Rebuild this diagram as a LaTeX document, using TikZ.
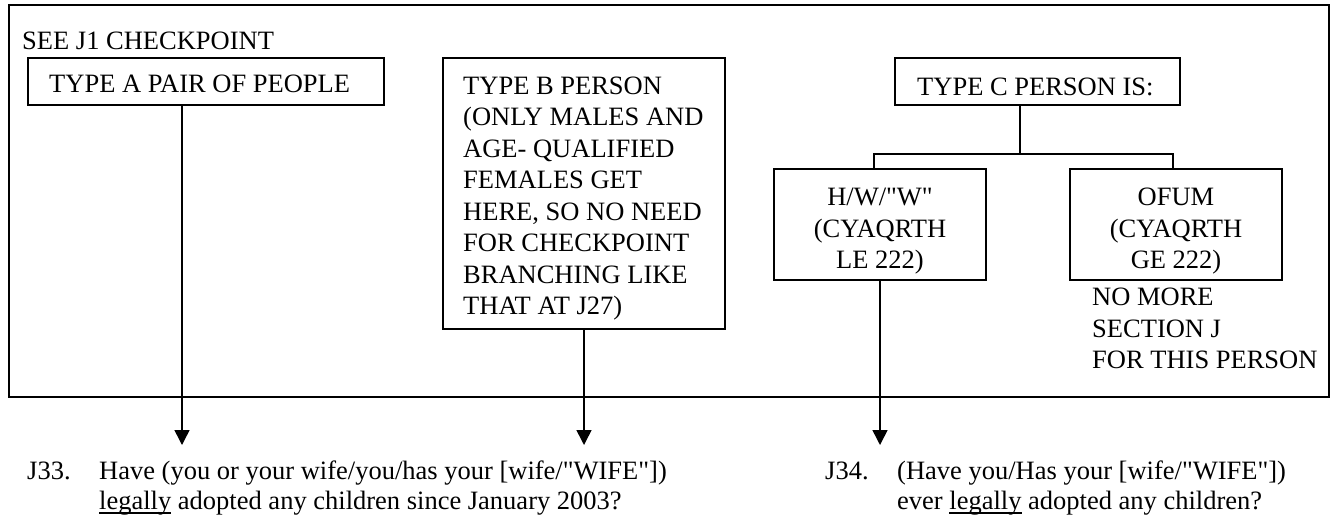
\documentclass[tikz,border=0pt]{standalone}
\usepackage{fontspec}
\setmainfont{Liberation Serif}[Ligatures=TeXOff]
\usetikzlibrary{arrows.meta,calc}
\newcommand\myul[1]{\setbox0\hbox{#1}\rlap{\rule[-4.5pt]{\wd0}{1.3pt}}\box0\relax}
\begin{document}
\begin{tikzpicture}[x=1pt,y=-1pt,
  box/.style={draw,line width=1.5pt,inner sep=0pt,outer sep=0pt},
  txt/.style={anchor=base west,inner sep=0pt,font=\fontsize{26.5}{31.5}\selectfont},
  ctxt/.style={anchor=base,inner sep=0pt,font=\fontsize{26.5}{31.5}\selectfont},
  btxt/.style={anchor=base west,inner sep=0pt,font=\fontsize{26.5}{30}\selectfont},
  conn/.style={line width=1.5pt},
  arr/.style={conn,-{Triangle[length=15pt,width=15pt]}}]
\useasboundingbox (0,0) rectangle (1335,523);
% boxes
\node[box,minimum width=1320pt,minimum height=392pt] (outer) at (669,201) {};
\node[box,minimum width=356pt,minimum height=47pt] (A) at (206,81.5) {};
\node[box,minimum width=282pt,minimum height=271pt] (B) at (584,193.5) {};
\node[box,minimum width=285pt,minimum height=47pt] (C) at (1037.5,81.5) {};
\node[box,minimum width=212pt,minimum height=111pt] (HW) at (880,224.5) {};
\node[box,minimum width=212pt,minimum height=111pt] (OF) at (1176,224.5) {};
% texts
\node[txt] (see) at (22,49) {SEE J1 CHECKPOINT};
\node[txt] (Atxt) at (49,92) {TYPE A PAIR OF PEOPLE};
\node[txt] (Ctxt) at (917,95) {TYPE C PERSON IS:};
\node[txt] (Btxt) at (463,94) {\begin{tabular}[t]{@{}l@{}}TYPE B PERSON\\(ONLY MALES AND\\AGE- QUALIFIED\\FEMALES GET\\HERE, SO NO NEED\\FOR CHECKPOINT\\BRANCHING LIKE\\THAT AT J27)\end{tabular}};
\node[ctxt] (HWtxt) at (880,205.5) {\begin{tabular}[t]{@{}c@{}}H/W/"W"\\(CYAQRTH\\LE 222)\end{tabular}};
\node[ctxt] (OFtxt) at (1176,205.5) {\begin{tabular}[t]{@{}c@{}}OFUM\\(CYAQRTH\\GE 222)\end{tabular}};
\node[txt] (nomore) at (1092,305.5) {\begin{tabular}[t]{@{}l@{}}NO MORE\\SECTION J\\FOR THIS PERSON\end{tabular}};
% questions
\node[btxt] (J33) at (27,479) {J33.};
\node[btxt] (q33) at (99,479) {\begin{tabular}[t]{@{}l@{}}Have (you or your wife/you/has your [wife/"WIFE"])\\\myul{legally} adopted any children since January 2003?\end{tabular}};
\node[btxt] (J34) at (825,479) {J34.};
\node[btxt] (q34) at (897,479) {\begin{tabular}[t]{@{}l@{}}(Have you/Has your [wife/"WIFE"])\\ever \myul{legally} adopted any children?\end{tabular}};
% connectors
\coordinate (tA) at (182,445);
\coordinate (tB) at (584,445);
\coordinate (tC) at (880,445);
\coordinate (fork) at (1020,154);
\draw[arr] ($(A.south)+(-24,0)$) -- (tA);
\draw[arr] (B.south) -- (tB);
\draw[arr] (HW.south) -- (tC);
\draw[conn] ($(C.south)+(-17.5,0)$) -- (fork);
\draw[conn] ($(HW.north)+(-6,0)$) |- (fork);
\draw[conn] ($(OF.north)+(-3,0)$) |- (fork);
\end{tikzpicture}
\end{document}
